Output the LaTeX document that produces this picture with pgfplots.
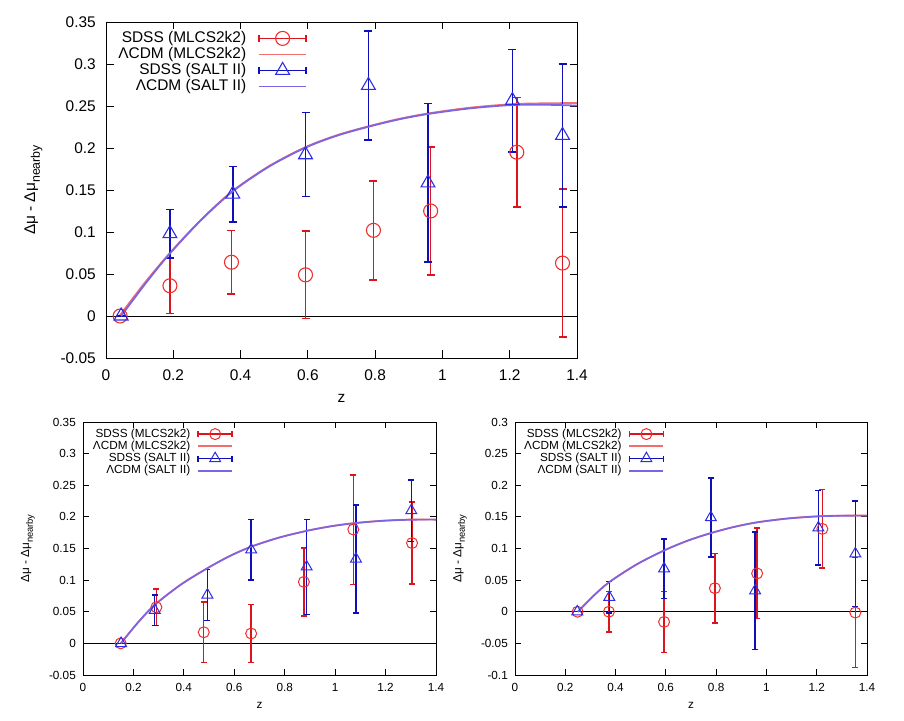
\documentclass[border=0pt]{standalone}
\usepackage{fontspec}
\setmainfont{Liberation Sans}
\usepackage{pgfplots}
\pgfplotsset{compat=1.18}

\definecolor{sred}{RGB}{220,20,30}
\definecolor{sredm}{RGB}{240,45,45}
\definecolor{sblue}{RGB}{15,15,185}
\definecolor{sbluem}{RGB}{45,45,230}
\definecolor{cred}{RGB}{240,110,110}
\definecolor{cblue}{RGB}{125,100,228}

\pgfplotsset{
  gp/.style={
    scale only axis,
    xmin=0, xmax=1.4,
    xtick={0,0.2,0.4,0.6,0.8,1,1.2,1.4},
    xticklabels={0,0.2,0.4,0.6,0.8,1,1.2,1.4},
    tick align=inside,
    axis line style={line width=0.9bp},
    every tick/.append style={black, line width=0.9bp},
    xlabel={z},
    xlabel style={anchor=center},
    ylabel style={anchor=center},
    xticklabel style={anchor=north, inner sep=0pt},
    yticklabel style={anchor=east, inner sep=0pt},
    legend cell align=right,
    legend plot pos=right,
    /pgf/number format/assume math mode=true,
  },
  ebR/.style 2 args={error bars/.cd, y dir=both, y explicit,
    error bar style={draw=sred, color=sred, line width=#1},
    error mark=|,
    error mark options={draw=sred, color=sred, line width=#1, mark size=#2}},
  ebB/.style 2 args={error bars/.cd, y dir=both, y explicit,
    error bar style={draw=sblue, color=sblue, line width=#1},
    error mark=|,
    error mark options={draw=sblue, color=sblue, line width=#1, mark size=#2}},
  % top legend images
  legT red/.style={legend image code/.code={
      \draw[sred, line width=1.5bp] (0bp,0bp) -- (47bp,0bp);
      \draw[sred, line width=1.5bp] (0bp,-3.8bp) -- (0bp,3.8bp);
      \draw[sred, line width=1.5bp] (47bp,-3.8bp) -- (47bp,3.8bp);
      \draw[sredm, line width=1.1bp, overlay] plot[mark=o, mark size=7bp] coordinates {(23.5bp,0bp)};
  }},
  legT blue/.style={legend image code/.code={
      \draw[sblue, line width=1.5bp] (0bp,0bp) -- (47bp,0bp);
      \draw[sblue, line width=1.5bp] (0bp,-3.8bp) -- (0bp,3.8bp);
      \draw[sblue, line width=1.5bp] (47bp,-3.8bp) -- (47bp,3.8bp);
      \draw[sbluem, line width=1.1bp, overlay] plot[mark=triangle, mark size=8bp] coordinates {(23.5bp,0bp)};
  }},
  legT line/.style={legend image code/.code={
      \draw[##1, line width=1.8bp] (0bp,0bp) -- (47bp,0bp);
  }},
  % bottom legend images
  legB red/.style={legend image code/.code={
      \draw[sred, line width=1.4bp] (0bp,0bp) -- (34bp,0bp);
      \draw[sred, line width=1.4bp] (0bp,-3bp) -- (0bp,3bp);
      \draw[sred, line width=1.4bp] (34bp,-3bp) -- (34bp,3bp);
      \draw[sredm, line width=1bp, overlay] plot[mark=o, mark size=5.5bp] coordinates {(17bp,0bp)};
  }},
  legB blue/.style={legend image code/.code={
      \draw[sblue, line width=1.4bp] (0bp,0bp) -- (34bp,0bp);
      \draw[sblue, line width=1.4bp] (0bp,-3bp) -- (0bp,3bp);
      \draw[sblue, line width=1.4bp] (34bp,-3bp) -- (34bp,3bp);
      \draw[sbluem, line width=1bp, overlay] plot[mark=triangle, mark size=6.3bp] coordinates {(17bp,0bp)};
  }},
  legB line/.style={legend image code/.code={
      \draw[##1, line width=1.7bp] (0bp,0bp) -- (34bp,0bp);
  }},
}

\begin{document}
\begin{tikzpicture}
\useasboundingbox (0,0) rectangle (904bp,721bp);

% ---------------- top ----------------
\begin{axis}[gp,
  at={(106bp,363bp)}, anchor=south west,
  width=471bp, height=336bp,
  ymin=-0.05, ymax=0.35,
  ytick={-0.05,0,0.05,0.1,0.15,0.2,0.25,0.3,0.35},
  yticklabels={-0.05,0,0.05,0.1,0.15,0.2,0.25,0.3,0.35},
  major tick length=7.5bp,
  ylabel={Δμ - Δμ\raisebox{-0.3em}{\fontsize{12.4}{13}\selectfont nearby}},
  tick label style={font=\fontsize{15.5}{17}\selectfont},
  label style={font=\fontsize{15.5}{17}\selectfont},
  xticklabel style={yshift=-12bp},
  yticklabel style={xshift=-10bp},
  xlabel style={at={(axis description cs:0.5,-0.119)}},
  ylabel style={at={(axis description cs:-0.154,0.5)}},
  legend style={draw=none, fill=none, inner sep=0pt, outer sep=0pt,
    at={(axis description cs:0.4268,0.972)}, anchor=north east,
    font=\fontsize{15.5}{17}\selectfont, row sep=2bp, /tikz/column sep=12bp,
    nodes={inner sep=0pt, text height=11bp, text depth=3bp}},
]
\addplot[black, line width=0.8bp, forget plot] coordinates {(0,0) (1.4,0)};

\addplot[sredm, only marks, mark=o, mark size=7bp, mark options={sredm, line width=1.1bp}, legT red,
  ebR={1.5bp}{4bp}]
  table[x=x, y=y, y error=e] {
x y e
0.042 0 0
0.19 0.036 0.033
0.373 0.064 0.038
0.593 0.049 0.052
0.795 0.102 0.059
0.965 0.125 0.076
1.221 0.195 0.065
1.357 0.063 0.088
};
\addlegendentry{SDSS (MLCS2k2)}

\addplot[cred, line width=1.8bp, smooth, no marks, legT line] coordinates {
(0.04,0) (0.115,0.0394) (0.19,0.075) (0.2835,0.115) (0.377,0.149) (0.485,0.1785)
(0.593,0.201) (0.6865,0.2152) (0.78,0.2258) (0.8685,0.2344) (0.957,0.2411)
(1.0825,0.248) (1.208,0.2522) (1.304,0.2532) (1.4,0.2535)};
\addlegendentry{ΛCDM (MLCS2k2)}

\addplot[sbluem, only marks, mark=triangle, mark size=8bp, mark options={sbluem, line width=1.1bp}, legT blue,
  ebB={1.5bp}{4bp}]
  table[x=x, y=y, y error=e] {
x y e
0.045 0 0
0.19 0.098 0.029
0.377 0.145 0.033
0.593 0.192 0.050
0.78 0.2745 0.065
0.957 0.1585 0.0945
1.208 0.2565 0.061
1.357 0.215 0.085
};
\addlegendentry{SDSS (SALT II)}

\addplot[cblue, line width=1.8bp, smooth, no marks, legT line] coordinates {
(0.045,0) (0.118,0.0390) (0.19,0.0745) (0.2835,0.1145) (0.377,0.1485) (0.485,0.178)
(0.593,0.2005) (0.6865,0.2147) (0.78,0.2253) (0.8685,0.2339) (0.957,0.2405)
(1.0825,0.2472) (1.208,0.2512) (1.304,0.2515) (1.4,0.2505)};
\addlegendentry{ΛCDM (SALT II)}
\end{axis}

% ---------------- bottom left ----------------
\begin{axis}[gp,
  at={(83bp,46bp)}, anchor=south west,
  width=353bp, height=253bp,
  ymin=-0.05, ymax=0.35,
  ytick={-0.05,0,0.05,0.1,0.15,0.2,0.25,0.3,0.35},
  yticklabels={-0.05,0,0.05,0.1,0.15,0.2,0.25,0.3,0.35},
  major tick length=6bp,
  ylabel={Δμ - Δμ\raisebox{-0.3em}{\fontsize{9.4}{10}\selectfont nearby}},
  tick label style={font=\fontsize{11.8}{13}\selectfont},
  label style={font=\fontsize{11.8}{13}\selectfont},
  xticklabel style={yshift=-7.8bp},
  yticklabel style={xshift=-7bp},
  xlabel style={at={(axis description cs:0.5,-0.1186)}},
  ylabel style={at={(axis description cs:-0.156,0.5)}},
  legend style={draw=none, fill=none, inner sep=0pt, outer sep=0pt,
    at={(axis description cs:0.425,0.9735)}, anchor=north east,
    font=\fontsize{11.8}{13}\selectfont, row sep=1.4bp, /tikz/column sep=7bp,
    nodes={inner sep=0pt, text height=8.5bp, text depth=2.3bp}},
]
\addplot[black, line width=0.8bp, forget plot] coordinates {(0,0) (1.4,0)};

\addplot[sredm, only marks, mark=o, mark size=5.5bp, mark options={sredm, line width=1bp}, legB red,
  ebR={1.4bp}{3bp}]
  table[x=x, y=y, y error=e] {
x y e
0.1495 0 0
0.291 0.0572 0.0286
0.479 0.0176 0.0475
0.667 0.0156 0.046
0.876 0.0972 0.0537
1.072 0.180 0.0865
1.305 0.1586 0.065
};
\addlegendentry{SDSS (MLCS2k2)}

\addplot[cred, line width=1.7bp, smooth, no marks, legB line] coordinates {
(0.15,0) (0.2173,0.0328) (0.2845,0.061) (0.389,0.0933) (0.4935,0.119) (0.580,0.1378)
(0.667,0.153) (0.777,0.1673) (0.887,0.178) (0.9795,0.185) (1.072,0.190)
(1.186,0.1939) (1.3,0.1958) (1.4,0.196)};
\addlegendentry{ΛCDM (MLCS2k2)}

\addplot[sbluem, only marks, mark=triangle, mark size=6.3bp, mark options={sbluem, line width=1bp}, legB blue,
  ebB={1.4bp}{3bp}]
  table[x=x, y=y, y error=e] {
x y e
0.151 0 0
0.2845 0.0524 0.024
0.4935 0.0766 0.040
0.667 0.148 0.048
0.887 0.121 0.075
1.0825 0.1335 0.0855
1.302 0.210 0.0486
};
\addlegendentry{SDSS (SALT II)}

\addplot[cblue, line width=1.7bp, smooth, no marks, legB line] coordinates {
(0.15,0) (0.2173,0.0326) (0.2845,0.0608) (0.389,0.0931) (0.4935,0.1188) (0.580,0.1376)
(0.667,0.1528) (0.777,0.1671) (0.887,0.1778) (0.9795,0.1848) (1.072,0.1898)
(1.186,0.1937) (1.3,0.1955) (1.4,0.1956)};
\addlegendentry{ΛCDM (SALT II)}
\end{axis}

% ---------------- bottom right ----------------
\begin{axis}[gp,
  at={(515bp,46bp)}, anchor=south west,
  width=352bp, height=253bp,
  ymin=-0.1, ymax=0.3,
  ytick={-0.1,-0.05,0,0.05,0.1,0.15,0.2,0.25,0.3},
  yticklabels={-0.1,-0.05,0,0.05,0.1,0.15,0.2,0.25,0.3},
  major tick length=6bp,
  ylabel={Δμ - Δμ\raisebox{-0.3em}{\fontsize{9.4}{10}\selectfont nearby}},
  tick label style={font=\fontsize{11.8}{13}\selectfont},
  label style={font=\fontsize{11.8}{13}\selectfont},
  xticklabel style={yshift=-7.8bp},
  yticklabel style={xshift=-7bp},
  xlabel style={at={(axis description cs:0.5,-0.1186)}},
  ylabel style={at={(axis description cs:-0.156,0.5)}},
  legend style={draw=none, fill=none, inner sep=0pt, outer sep=0pt,
    at={(axis description cs:0.424,0.9735)}, anchor=north east,
    font=\fontsize{11.8}{13}\selectfont, row sep=1.4bp, /tikz/column sep=7bp,
    nodes={inner sep=0pt, text height=8.5bp, text depth=2.3bp}},
]
\addplot[black, line width=0.8bp, forget plot] coordinates {(0,0) (1.4,0)};

\addplot[sredm, only marks, mark=o, mark size=5.5bp, mark options={sredm, line width=1bp}, legB red,
  ebR={1.4bp}{3bp}]
  table[x=x, y=y, y error=e] {
x y e
0.249 0 0
0.3735 0 0.032
0.593 -0.016 0.048
0.795 0.0373 0.055
0.963 0.0606 0.0717
1.2225 0.131 0.062
1.3536 -0.0013 0.087
};
\addlegendentry{SDSS (MLCS2k2)}

\addplot[cred, line width=1.7bp, smooth, no marks, legB line] coordinates {
(0.25,0) (0.3125,0.0254) (0.375,0.047) (0.484,0.075) (0.593,0.097) (0.686,0.1124)
(0.779,0.1245) (0.871,0.1342) (0.963,0.1415) (1.085,0.1476) (1.2066,0.151)
(1.303,0.152) (1.4,0.1522)};
\addlegendentry{ΛCDM (MLCS2k2)}

\addplot[sbluem, only marks, mark=triangle, mark size=6.3bp, mark options={sbluem, line width=1bp}, legB blue,
  ebB={1.4bp}{3bp}]
  table[x=x, y=y, y error=e] {
x y e
0.2477 0 0
0.375 0.023 0.025
0.593 0.068 0.047
0.779 0.149 0.0624
0.955 0.0333 0.0927
1.2066 0.1328 0.059
1.3536 0.0917 0.0835
};
\addlegendentry{SDSS (SALT II)}

\addplot[cblue, line width=1.7bp, smooth, no marks, legB line] coordinates {
(0.25,0) (0.3125,0.0252) (0.375,0.0468) (0.484,0.0748) (0.593,0.0968) (0.686,0.1122)
(0.779,0.1243) (0.871,0.134) (0.963,0.1413) (1.085,0.1474) (1.2066,0.1508)
(1.303,0.1518) (1.4,0.152)};
\addlegendentry{ΛCDM (SALT II)}
\end{axis}
\end{tikzpicture}
\end{document}
